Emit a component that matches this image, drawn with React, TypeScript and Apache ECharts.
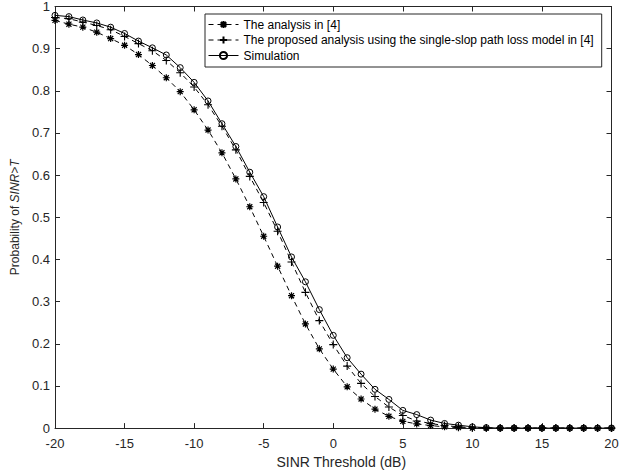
import React, { useEffect, useRef } from "react";
import * as echarts from "echarts";

const thresholds = [-20, -19, -18, -17, -16, -15, -14, -13, -12, -11, -10, -9, -8, -7, -6, -5, -4, -3, -2, -1, 0, 1, 2, 3, 4, 5, 6, 7, 8, 9, 10, 11, 12, 13, 14, 15, 16, 17, 18, 19, 20];

const analysisRef4 = [0.967, 0.958, 0.951, 0.939, 0.924, 0.908, 0.886, 0.860, 0.831, 0.798, 0.755, 0.707, 0.653, 0.591, 0.525, 0.455, 0.384, 0.314, 0.247, 0.188, 0.140, 0.098, 0.069, 0.045, 0.028, 0.016, 0.010, 0.006, 0.003, 0.001, 0, 0, 0, 0, 0, 0, 0, 0, 0, 0, 0];

const proposedAnalysis = [0.974, 0.971, 0.963, 0.955, 0.945, 0.929, 0.912, 0.895, 0.872, 0.843, 0.809, 0.767, 0.716, 0.660, 0.597, 0.535, 0.467, 0.394, 0.322, 0.255, 0.198, 0.147, 0.106, 0.075, 0.050, 0.030, 0.017, 0.011, 0.006, 0.003, 0.001, 0, 0, 0, 0, 0, 0, 0, 0, 0, 0];

const simulation = [0.979, 0.976, 0.968, 0.961, 0.951, 0.936, 0.918, 0.902, 0.885, 0.855, 0.820, 0.776, 0.722, 0.668, 0.607, 0.549, 0.477, 0.406, 0.347, 0.281, 0.220, 0.167, 0.128, 0.092, 0.068, 0.042, 0.032, 0.019, 0.011, 0.007, 0.003, 0.001, 0, 0, 0, 0, 0, 0, 0, 0, 0];

const seriesNames = [
  "The analysis in [4]",
  "The proposed analysis using the single-slop path loss model in [4]",
  "Simulation",
];

const xTickLabels = ["-20", "-15", "-10", "-5", "0", "5", "10", "15", "20"];
const yTickLabels = ["0", "0.1", "0.2", "0.3", "0.4", "0.5", "0.6", "0.7", "0.8", "0.9", "1"];

const STAR = "path://M0 -5L0 5M-5 0L5 0M-3.6 -3.6L3.6 3.6M-3.6 3.6L3.6 -3.6";
const PLUS = "path://M0 -5L0 5M-5 0L5 0";
const CIRCLE = "path://M-5 0A5 5 0 1 0 5 0A5 5 0 1 0 -5 0Z";

const FONT = "Liberation Sans, Arial, Helvetica, sans-serif";
const AX = "#262626";

export default function App() {
  const ref = useRef<HTMLDivElement>(null);
  useEffect(() => {
    if (!ref.current) return;
    const chart = echarts.init(ref.current, null, { renderer: "svg" });
    const pair = (arr: number[]) => thresholds.map((t, i) => [t, arr[i]]);
    const xLabelMap: Record<string, string> = {};
    xTickLabels.forEach((s) => (xLabelMap[String(Number(s))] = s));
    const yLabelMap: Record<string, string> = {};
    yTickLabels.forEach((s) => (yLabelMap[String(Number(s))] = s));

    const baseX = {
      type: "value",
      min: -20,
      max: 20,
      interval: 5,
      splitLine: { show: false },
      axisLine: { show: true, onZero: false, lineStyle: { color: AX, width: 1 } },
      axisTick: { show: true, inside: true, length: 5, lineStyle: { color: AX } },
    };
    const baseY = {
      type: "value",
      min: 0,
      max: 1,
      interval: 0.1,
      splitLine: { show: false },
      axisLine: { show: true, onZero: false, lineStyle: { color: AX, width: 1 } },
      axisTick: { show: true, inside: true, length: 5, lineStyle: { color: AX } },
    };

    chart.setOption({
      animation: false,
      backgroundColor: "#ffffff",
      textStyle: { fontFamily: FONT },
      grid: { left: 55, right: 26.5, top: 5.5, bottom: 44.5, containLabel: false },
      legend: {
        show: true,
        orient: "vertical",
        left: 205,
        top: 14,
        itemWidth: 30,
        itemHeight: 9,
        itemGap: 0.5,
        padding: [3, 8, 4, 3],
        borderColor: "#262626",
        borderWidth: 1,
        backgroundColor: "#ffffff",
        lineStyle: { width: 1 },
        textStyle: { fontFamily: FONT, fontSize: 12, lineHeight: 15, color: "#000" },
        data: seriesNames,
      },
      xAxis: [
        {
          ...baseX,
          position: "bottom",
          name: "SINR Threshold (dB)",
          nameLocation: "middle",
          nameGap: 22,
          nameTextStyle: { fontFamily: FONT, fontSize: 14, color: AX, padding: [0, 0, 0, 16] },
          axisLabel: {
            show: true,
            margin: 9,
            fontFamily: FONT,
            fontSize: 13,
            color: AX,
            formatter: (v: number) => xLabelMap[String(v)] ?? String(v),
          },
        },
        { ...baseX, position: "top", axisLabel: { show: false } },
      ],
      yAxis: [
        {
          ...baseY,
          position: "left",
          name: "{a|Probability of }{b|SINR>T}",
          nameLocation: "middle",
          nameRotate: 90,
          nameGap: 27,
          nameTextStyle: {
            fontFamily: FONT,
            fontSize: 12,
            color: AX,
            rich: {
              a: { fontFamily: FONT, fontSize: 12, color: AX },
              b: { fontFamily: FONT, fontSize: 12, color: AX, fontStyle: "italic" },
            },
          },
          axisLabel: {
            show: true,
            margin: 5,
            fontFamily: FONT,
            fontSize: 13,
            color: AX,
            formatter: (v: number) => yLabelMap[String(Math.round(v * 10) / 10)] ?? String(v),
          },
        },
        { ...baseY, position: "right", axisLabel: { show: false } },
      ],
      series: [
        {
          name: seriesNames[0],
          type: "line",
          data: pair(analysisRef4),
          symbol: STAR,
          symbolSize: 7,
          showAllSymbol: true,
          lineStyle: { color: "#000", width: 1, type: [5, 4] },
          itemStyle: { color: "#000", borderColor: "#000", borderWidth: 1.2 },
          z: 3,
        },
        {
          name: seriesNames[1],
          type: "line",
          data: pair(proposedAnalysis),
          symbol: PLUS,
          symbolSize: 8,
          showAllSymbol: true,
          lineStyle: { color: "#000", width: 1, type: [5, 4] },
          itemStyle: { color: "#000", borderColor: "#000", borderWidth: 1.1 },
          z: 4,
        },
        {
          name: seriesNames[2],
          type: "line",
          data: pair(simulation),
          symbol: CIRCLE,
          symbolSize: 6,
          showAllSymbol: true,
          lineStyle: { color: "#000", width: 1, type: "solid" },
          itemStyle: { color: "transparent", borderColor: "#000", borderWidth: 1 },
          z: 5,
        },
      ],
    });
    return () => chart.dispose();
  }, []);
  return <div ref={ref} style={{ width: 638, height: 474, position: "absolute", left: 0, top: 0 }} />;
}
